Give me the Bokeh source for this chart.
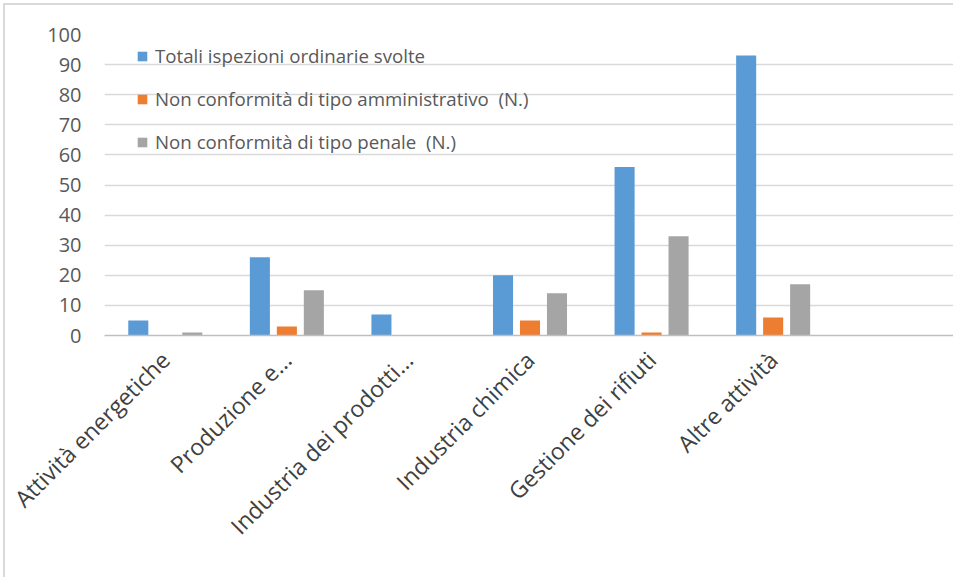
import math
from bokeh.plotting import figure
from bokeh.models import ColumnDataSource, FactorRange, Range1d, Legend, LegendItem, SingleIntervalTicker
from bokeh.transform import dodge
from bokeh.embed import file_html
from bokeh.resources import INLINE

categories = ["Attività energetiche", "Produzione e...", "Industria dei prodotti...",
              "Industria chimica", "Gestione dei rifiuti", "Altre attività", " "]
series_names = ["Totali ispezioni ordinarie svolte",
                "Non conformità di tipo amministrativo  (N.)",
                "Non conformità di tipo penale  (N.)"]
totali = [5, 26, 7, 20, 56, 93, 0]
amministrativo = [0, 3, 0, 5, 1, 6, 0]
penale = [1, 15, 0, 14, 33, 17, 0]
colors = ["#5b9bd5", "#ed7d31", "#a5a5a5"]

src = ColumnDataSource(dict(cat=categories, totali=totali,
                            amm=amministrativo, pen=penale))

p = figure(x_range=FactorRange(*categories, range_padding=0), y_range=Range1d(0, 100),
           width=950, height=574, output_backend="svg", toolbar_location=None,
           min_border_left=99, min_border_right=0, min_border_top=29, min_border_bottom=244)
p.styles = {"border-top": "2px solid #d9d9d9", "border-left": "2px solid #d9d9d9",
            "margin-left": "3px", "margin-top": "3px"}
p.outline_line_color = None

bw = 0.165
off = 0.222
r1 = p.vbar(x=dodge("cat", -off, range=p.x_range), top="totali", width=bw, source=src,
            color=colors[0], line_color=None)
r2 = p.vbar(x=dodge("cat", 0, range=p.x_range), top="amm", width=bw, source=src,
            color=colors[1], line_color=None)
r3 = p.vbar(x=dodge("cat", off, range=p.x_range), top="pen", width=bw, source=src,
            color=colors[2], line_color=None)

# axes
p.yaxis.ticker = SingleIntervalTicker(interval=10)
p.yaxis.axis_line_color = None
p.yaxis.major_tick_line_color = None
p.yaxis.minor_tick_line_color = None
p.yaxis.major_label_text_font = "Open Sans"
p.yaxis.major_label_text_font_size = "20px"
p.yaxis.major_label_text_color = "#595959"
p.yaxis.major_label_standoff = 17

p.xaxis.axis_line_color = "#bfbfbf"
p.xaxis.axis_line_width = 1.5
p.xaxis.major_tick_line_color = None
p.xaxis.minor_tick_line_color = None
p.xaxis.major_label_orientation = math.pi / 4
p.xaxis.major_label_text_font = "Open Sans"
p.xaxis.major_label_text_font_size = "23px"
p.xaxis.major_label_text_color = "#404040"
p.xaxis.major_label_standoff = 14

p.xgrid.grid_line_color = None
p.ygrid.grid_line_color = "#d9d9d9"
p.ygrid.grid_line_width = 1.5

legend = Legend(items=[LegendItem(label=series_names[0], renderers=[r1]),
                       LegendItem(label=series_names[1], renderers=[r2]),
                       LegendItem(label=series_names[2], renderers=[r3])],
                location=(32, 181), padding=0, margin=0, spacing=18,
                glyph_width=12, glyph_height=12, label_height=24, label_standoff=7,
                label_text_font="Open Sans", label_text_font_size="18.7px",
                label_text_color="#595959", background_fill_alpha=0,
                border_line_color=None)
p.add_layout(legend)

open("out.html", "w").write(file_html(p, INLINE))
